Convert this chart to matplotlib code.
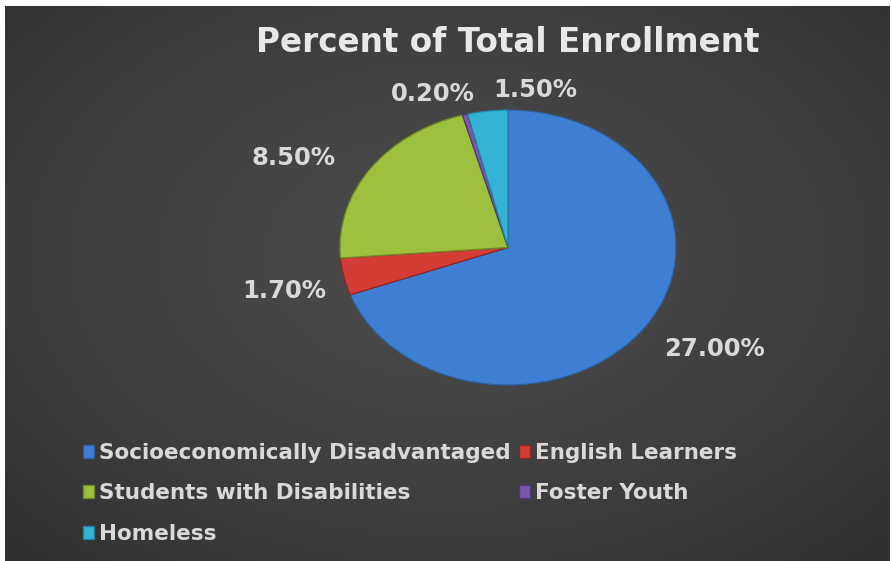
import numpy as np
import matplotlib
matplotlib.use('Agg')
import matplotlib.pyplot as plt
from matplotlib.patches import Patch

# data
categories = ['Socioeconomically Disadvantaged', 'English Learners',
              'Students with Disabilities', 'Foster Youth', 'Homeless']
values = [27.0, 1.7, 8.5, 0.2, 1.5]
colors = ['#3f7fd3', '#d43c36', '#9dc03e', '#7a58ad', '#35b3d6']
edge_colors = ['#2d5f9e', '#8f2522', '#6e8a28', '#4f3775', '#23809c']

# label placement tweaks (distance, angle offset in degrees)
label_dist = [1.43, 1.37, 1.43, 1.2, 1.16]
label_shift = [4, 1, 8, 7, -15]

plt.rcParams['font.family'] = ['DejaVu Sans']
text_col = '#d9d9d9'

W, H = 892, 561
fig = plt.figure(figsize=(W / 100, H / 100), dpi=100)
fig.patch.set_facecolor('white')

# dark background with soft radial gradient
bg = fig.add_axes([5 / W, 0, 885 / W, 555 / H])
yy, xx = np.mgrid[0:1:300j, 0:1:480j]
r = np.sqrt(((xx - 0.5) / 0.75) ** 2 + ((yy - 0.45) / 0.8) ** 2)
shade = 0.29 - 0.11 * np.clip(r, 0, 1) ** 1.5
bg.imshow(np.dstack([shade] * 3), aspect='auto', extent=[0, 1, 0, 1],
          interpolation='bilinear')
bg.set_axis_off()

# pie axes: ellipse as in the stretched original
ax = fig.add_axes([340 / W, (H - 385) / H, 336 / W, 275 / H])
wedges, _ = ax.pie(values, colors=colors, startangle=90, counterclock=False,
                   wedgeprops=dict(linewidth=0.9))
for w, ec in zip(wedges, edge_colors):
    w.set_edgecolor(ec)
ax.set_aspect('auto')
ax.set_xlim(-1, 1)
ax.set_ylim(-1, 1)
ax.set_axis_off()

for w, v, d, s in zip(wedges, values, label_dist, label_shift):
    ang = np.deg2rad((w.theta1 + w.theta2) / 2 + s)
    ax.text(d * np.cos(ang), d * np.sin(ang), f'{v:.2f}%', ha='center',
            va='center', color=text_col, fontsize=17.5, fontweight='bold',
            clip_on=False)

fig.text(508 / W, 1 - 43 / H, 'Percent of Total Enrollment', ha='center',
         va='center', color='#e8e8e8', fontsize=23.5, fontweight='bold')

# legend in row order like the original
order = [0, 2, 4, 1, 3]
handles = [Patch(facecolor=colors[i], edgecolor=edge_colors[i], label=categories[i])
           for i in order]
fig.legend(handles=handles, ncol=2, loc='upper left',
           bbox_to_anchor=(72 / W, 1 - 432 / H), frameon=False,
           prop=dict(size=15.5, weight='bold'), labelcolor=text_col,
           handlelength=0.5, handleheight=0.55, handletextpad=0.25,
           columnspacing=0.4, labelspacing=0.95, borderpad=0)

fig.savefig('out.png', dpi=100)
